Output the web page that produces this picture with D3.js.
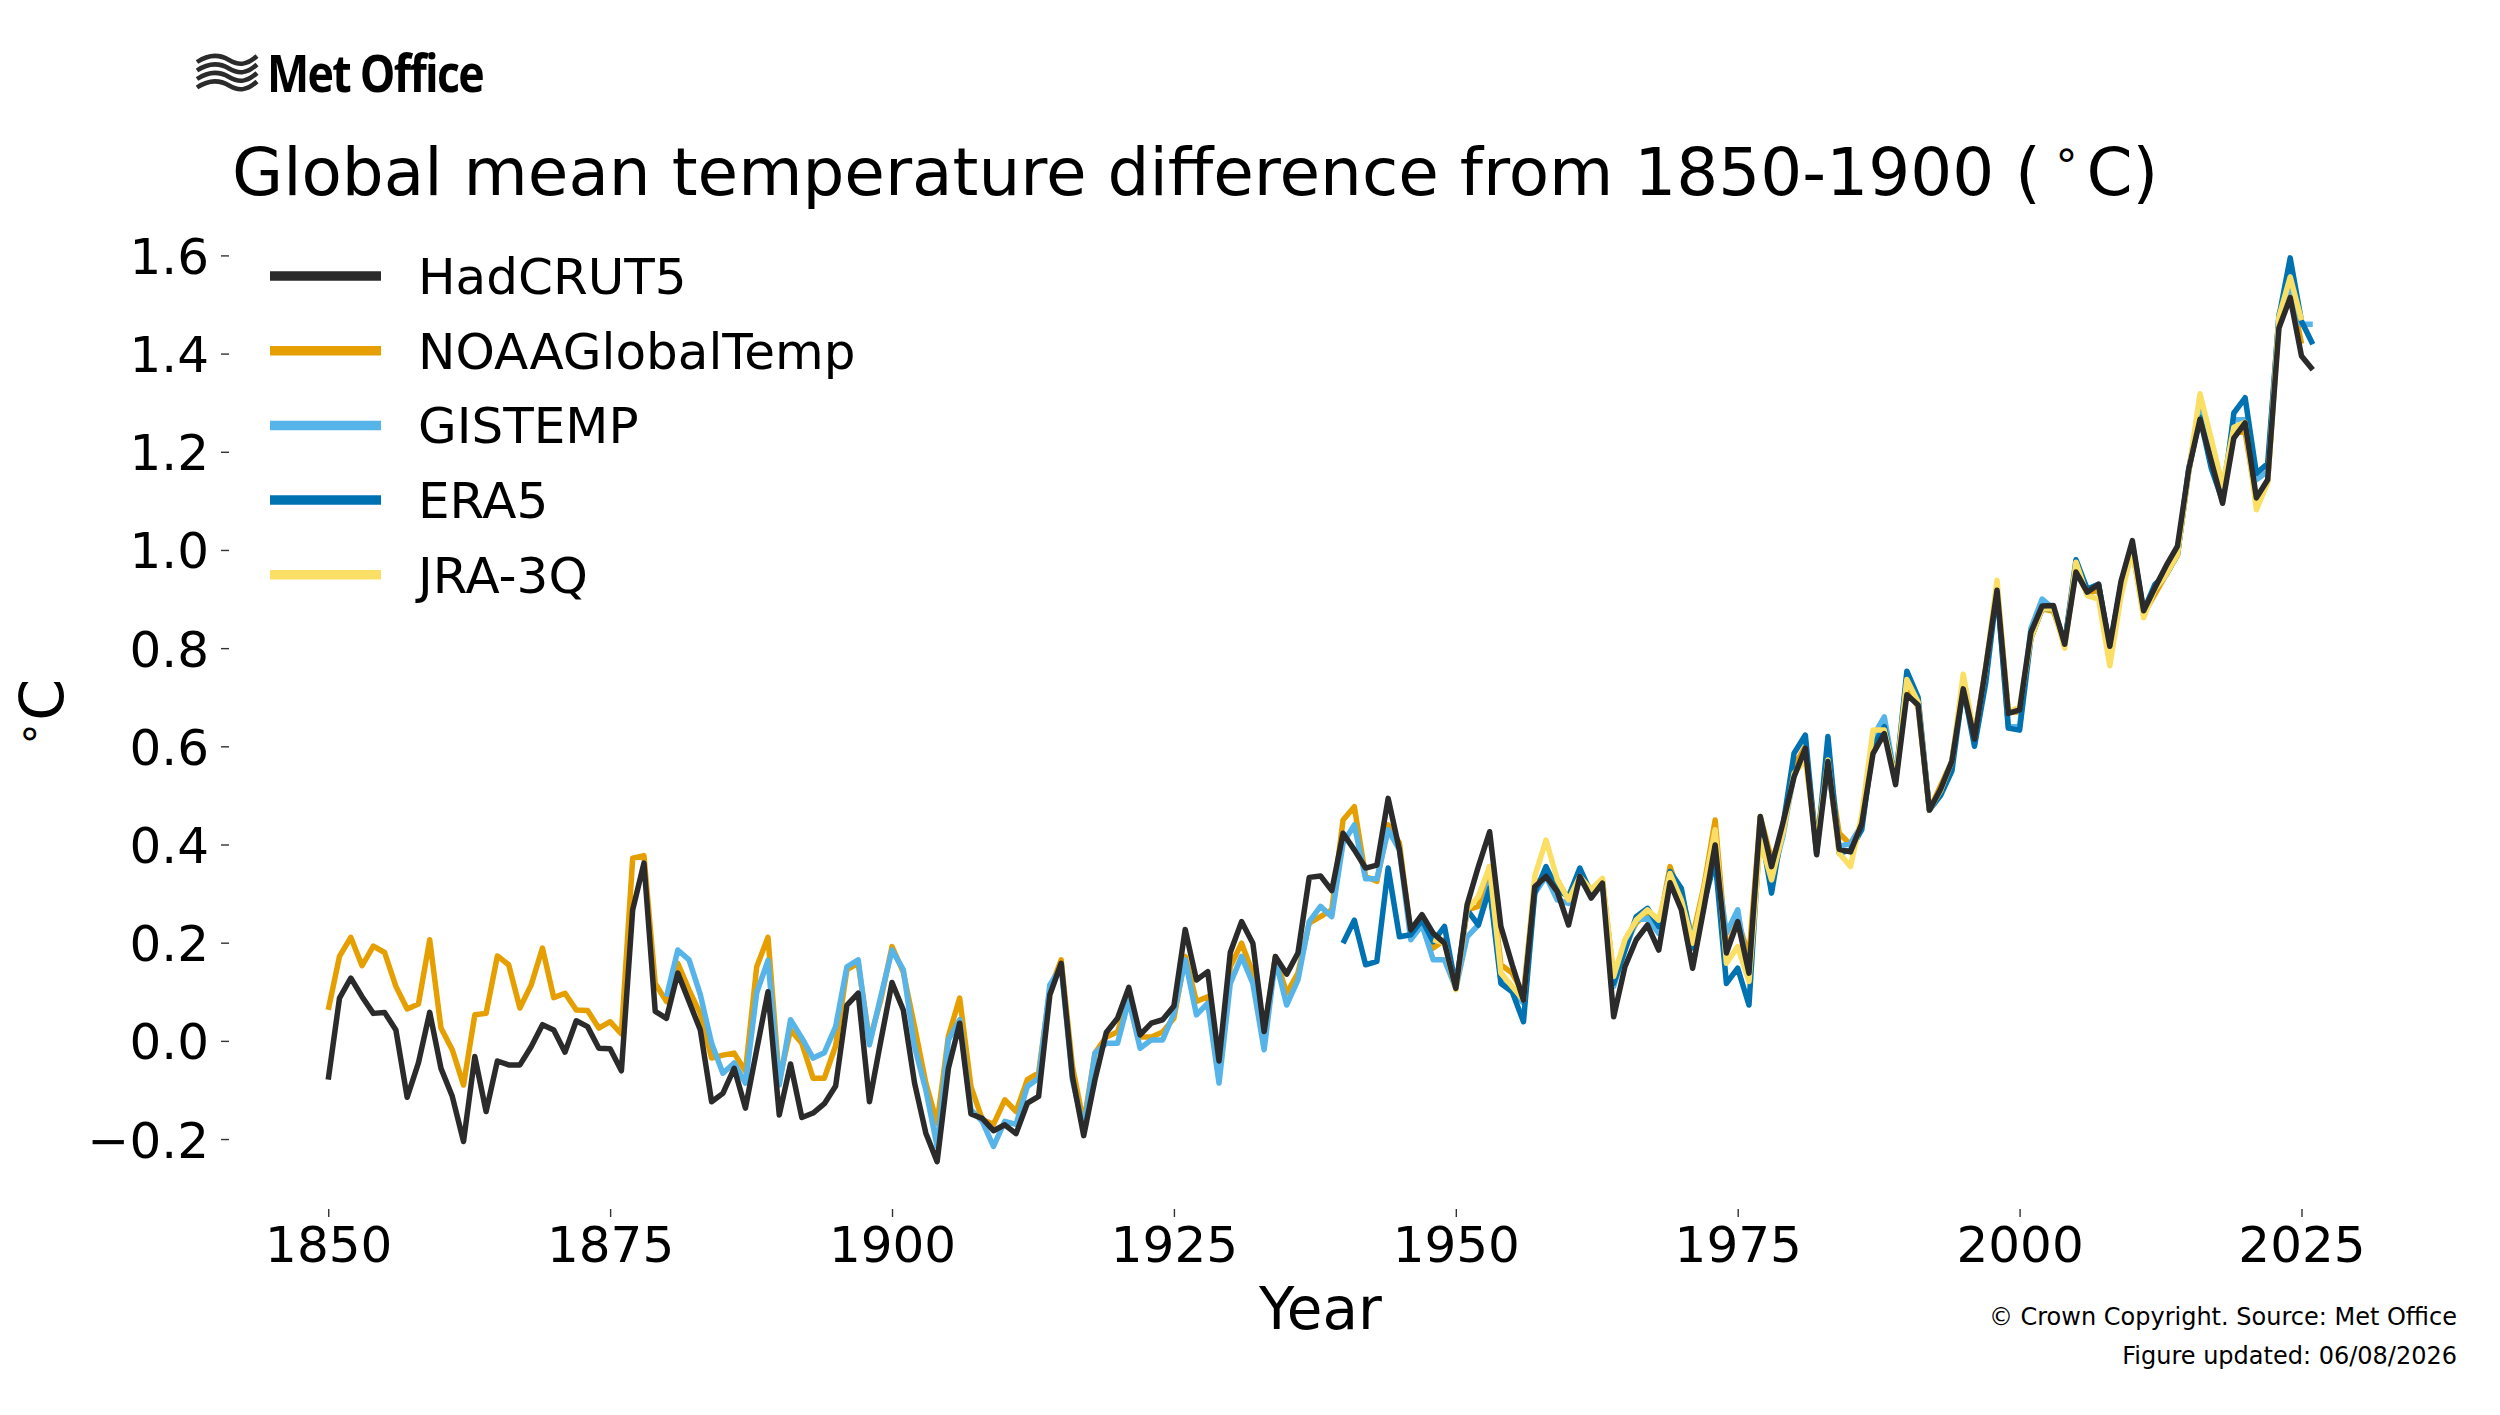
<!DOCTYPE html>
<html>
<head>
<meta charset="utf-8">
<script src="https://cdn.jsdelivr.net/npm/d3@7"></script>
<style>
  body { margin: 0; background: #fff; }
  svg { display: block; }
  text { font-family: "DejaVu Sans", sans-serif; fill: #000; }
</style>
</head>
<body>
<div id="chart"></div>
<script>
// annual values, degC above 1850-1900
const hadcrutStart = 1850;
const hadcrut5 = [
  -0.079, 0.087, 0.128, 0.090, 0.056, 0.058, 0.022, -0.115, -0.045, 0.058,
  -0.056, -0.113, -0.205, -0.032, -0.144, -0.041, -0.049, -0.049, -0.012, 0.033,
  0.022, -0.023, 0.041, 0.029, -0.015, -0.016, -0.061, 0.267, 0.362, 0.060,
  0.046, 0.138, 0.080, 0.022, -0.124, -0.107, -0.056, -0.137, -0.018, 0.100,
  -0.151, -0.047, -0.156, -0.147, -0.128, -0.092, 0.073, 0.097, -0.124, -0.001,
  0.119, 0.063, -0.086, -0.188, -0.246, -0.056, 0.036, -0.149, -0.158, -0.183,
  -0.171, -0.189, -0.127, -0.113, 0.094, 0.158, -0.073, -0.193, -0.079, 0.017,
  0.046, 0.109, 0.012, 0.036, 0.043, 0.071, 0.227, 0.124, 0.141, -0.041,
  0.180, 0.243, 0.199, 0.019, 0.172, 0.136, 0.179, 0.333, 0.336, 0.306,
  0.423, 0.389, 0.352, 0.358, 0.494, 0.389, 0.226, 0.257, 0.219, 0.199,
  0.107, 0.277, 0.355, 0.426, 0.233, 0.155, 0.083, 0.314, 0.335, 0.304,
  0.236, 0.335, 0.291, 0.321, 0.049, 0.151, 0.206, 0.236, 0.185, 0.322,
  0.267, 0.148, 0.270, 0.399, 0.179, 0.243, 0.138, 0.457, 0.355, 0.443,
  0.538, 0.596, 0.379, 0.569, 0.390, 0.385, 0.442, 0.585, 0.626, 0.522,
  0.705, 0.684, 0.470, 0.513, 0.570, 0.717, 0.615, 0.761, 0.918, 0.667,
  0.674, 0.832, 0.886, 0.887, 0.808, 0.955, 0.914, 0.930, 0.804, 0.937,
  1.019, 0.876, 0.923, 0.968, 1.008, 1.164, 1.266, 1.181, 1.095, 1.228,
  1.259, 1.106, 1.143, 1.452, 1.514, 1.395, 1.367
];

const noaaStart = 1850;
const noaa = [
  0.063, 0.172, 0.211, 0.153, 0.193, 0.180, 0.111, 0.065, 0.075, 0.206,
  0.026, -0.018, -0.090, 0.053, 0.056, 0.173, 0.155, 0.067, 0.114, 0.189,
  0.088, 0.097, 0.063, 0.062, 0.026, 0.039, 0.014, 0.372, 0.377, 0.117,
  0.080, 0.158, 0.104, 0.055, -0.035, -0.029, -0.025, -0.062, 0.151, 0.211,
  -0.080, 0.022, -0.005, -0.076, -0.076, -0.010, 0.145, 0.158, 0.000, 0.083,
  0.192, 0.140, 0.029, -0.086, -0.168, 0.010, 0.087, -0.093, -0.160, -0.170,
  -0.120, -0.144, -0.079, -0.065, 0.104, 0.165, -0.052, -0.168, -0.025, 0.008,
  0.018, 0.090, 0.008, 0.008, 0.018, 0.046, 0.172, 0.080, 0.090, -0.045,
  0.151, 0.199, 0.138, 0.015, 0.172, 0.097, 0.138, 0.240, 0.253, 0.267,
  0.450, 0.477, 0.335, 0.325, 0.440, 0.403, 0.219, 0.240, 0.189, 0.206,
  0.110, 0.267, 0.274, 0.355, 0.155, 0.138, 0.096, 0.321, 0.335, 0.328,
  0.287, 0.335, 0.308, 0.328, 0.131, 0.199, 0.240, 0.260, 0.233, 0.355,
  0.287, 0.212, 0.314, 0.450, 0.185, 0.246, 0.172, 0.457, 0.369, 0.423,
  0.559, 0.600, 0.402, 0.572, 0.423, 0.400, 0.440, 0.600, 0.640, 0.530,
  0.720, 0.680, 0.470, 0.520, 0.570, 0.720, 0.620, 0.760, 0.920, 0.670,
  0.670, 0.820, 0.880, 0.875, 0.810, 0.960, 0.910, 0.920, 0.790, 0.930,
  1.000, 0.870, 0.910, 0.950, 0.990, 1.160, 1.280, 1.190, 1.110, 1.240,
  1.240, 1.100, 1.140, 1.466, 1.536, 1.420
];

const gistempStart = 1880;
const gistemp = [
  0.090, 0.185, 0.165, 0.094, -0.005, -0.066, -0.045, -0.086, 0.098, 0.164,
  -0.090, 0.043, 0.006, -0.035, -0.024, 0.029, 0.151, 0.165, -0.008, 0.090,
  0.185, 0.145, -0.012, -0.100, -0.215, 0.002, 0.043, -0.140, -0.164, -0.215,
  -0.164, -0.170, -0.093, -0.076, 0.114, 0.151, -0.079, -0.180, -0.025, -0.005,
  -0.005, 0.083, -0.015, 0.002, 0.002, 0.056, 0.165, 0.053, 0.077, -0.086,
  0.117, 0.172, 0.117, -0.018, 0.165, 0.073, 0.124, 0.243, 0.274, 0.253,
  0.403, 0.440, 0.330, 0.330, 0.430, 0.389, 0.206, 0.236, 0.165, 0.165,
  0.107, 0.212, 0.236, 0.321, 0.124, 0.100, 0.077, 0.301, 0.335, 0.287,
  0.280, 0.328, 0.301, 0.318, 0.111, 0.185, 0.246, 0.250, 0.219, 0.335,
  0.301, 0.206, 0.294, 0.382, 0.219, 0.267, 0.124, 0.443, 0.328, 0.416,
  0.545, 0.579, 0.402, 0.559, 0.396, 0.402, 0.440, 0.620, 0.660, 0.530,
  0.740, 0.690, 0.470, 0.510, 0.570, 0.720, 0.620, 0.750, 0.920, 0.640,
  0.640, 0.840, 0.900, 0.880, 0.810, 0.970, 0.920, 0.930, 0.800, 0.930,
  1.010, 0.870, 0.920, 0.950, 0.990, 1.160, 1.300, 1.200, 1.120, 1.265,
  1.265, 1.143, 1.160, 1.480, 1.540, 1.460, 1.460
];

const era5Start = 1940;
const era5 = [
  0.199, 0.246, 0.155, 0.162, 0.352, 0.212, 0.216, 0.246, 0.202, 0.233,
  0.110, 0.267, 0.236, 0.311, 0.117, 0.100, 0.039, 0.301, 0.355, 0.308,
  0.294, 0.352, 0.301, 0.321, 0.117, 0.185, 0.253, 0.270, 0.233, 0.345,
  0.311, 0.189, 0.280, 0.369, 0.117, 0.148, 0.073, 0.436, 0.301, 0.436,
  0.586, 0.623, 0.382, 0.620, 0.382, 0.389, 0.430, 0.600, 0.640, 0.530,
  0.753, 0.700, 0.470, 0.500, 0.550, 0.720, 0.600, 0.730, 0.920, 0.637,
  0.633, 0.820, 0.880, 0.880, 0.810, 0.980, 0.920, 0.930, 0.800, 0.930,
  1.010, 0.876, 0.930, 0.950, 0.990, 1.166, 1.270, 1.166, 1.100, 1.279,
  1.310, 1.156, 1.176, 1.475, 1.595, 1.466, 1.419
];

const jra3qStart = 1948;
const jra3q = [
  0.206, 0.199,
  0.104, 0.267, 0.294, 0.355, 0.138, 0.111, 0.083, 0.335, 0.409, 0.328,
  0.287, 0.335, 0.308, 0.331, 0.131, 0.206, 0.246, 0.267, 0.246, 0.341,
  0.287, 0.199, 0.308, 0.430, 0.158, 0.192, 0.121, 0.409, 0.328, 0.423,
  0.545, 0.572, 0.396, 0.572, 0.382, 0.355, 0.460, 0.633, 0.633, 0.530,
  0.736, 0.690, 0.470, 0.510, 0.570, 0.747, 0.620, 0.760, 0.938, 0.670,
  0.680, 0.820, 0.880, 0.880, 0.800, 0.975, 0.907, 0.900, 0.764, 0.907,
  1.000, 0.862, 0.920, 0.950, 0.990, 1.160, 1.318, 1.226, 1.130, 1.250,
  1.260, 1.082, 1.137, 1.475, 1.556, 1.468
];

const xTicks = [1850, 1875, 1900, 1925, 1950, 1975, 2000, 2025];
const yTicks = [-0.2, 0.0, 0.2, 0.4, 0.6, 0.8, 1.0, 1.2, 1.4, 1.6];

// legend order (top to bottom)
const series = [
  { name: "HadCRUT5", start: hadcrutStart, values: hadcrut5, color: "#2b2b2b" },
  { name: "NOAAGlobalTemp", start: noaaStart, values: noaa, color: "#e69f00" },
  { name: "GISTEMP", start: gistempStart, values: gistemp, color: "#56b4e9" },
  { name: "ERA5", start: era5Start, values: era5, color: "#0072b2" },
  { name: "JRA-3Q", start: jra3qStart, values: jra3q, color: "#fbdf64" }
];
// HadCRUT5 sits on top, the others underneath
const drawOrder = ["NOAAGlobalTemp", "GISTEMP", "ERA5", "JRA-3Q", "HadCRUT5"];

const W = 2500, H = 1415;
const plot = { left: 229, right: 2412, top: 210, bottom: 1209 };

const svg = d3.select("#chart").append("svg")
    .attr("width", W)
    .attr("height", H)
    .style("background", "#fff");

// matplotlib-style 5% padding around the data
const x = d3.scaleLinear().domain([1841.2, 2034.8]).range([plot.left, plot.right]);
const y = d3.scaleLinear().domain([-0.3425, 1.6925]).range([plot.bottom, plot.top]);

// axes, spines hidden
const yAxis = svg.append("g")
    .attr("transform", `translate(${plot.left},0)`)
    .call(d3.axisLeft(y).tickValues(yTicks).tickFormat(d3.format(".1f")).tickSize(8).tickPadding(12));
const xAxis = svg.append("g")
    .attr("transform", `translate(0,${plot.bottom})`)
    .call(d3.axisBottom(x).tickValues(xTicks).tickFormat(d3.format("d")).tickSize(8).tickPadding(6));

[xAxis, yAxis].forEach(g => {
  g.select(".domain").remove();
  g.selectAll(".tick line").attr("stroke", "#333").attr("stroke-width", 1.4);
  g.selectAll(".tick text")
      .style("font-family", '"DejaVu Sans", sans-serif')
      .style("font-size", "50px")
      .attr("fill", "#000");
});
yAxis.selectAll(".tick text").attr("dy", "0.36em");
xAxis.selectAll(".tick text").attr("dy", "0.78em");

// lines
const line = d3.line()
    .x(d => x(d.year))
    .y(d => y(d.value));

const lines = svg.append("g");
drawOrder.forEach(name => {
  const s = series.find(d => d.name === name);
  const pts = s.values.map((v, i) => ({ year: s.start + i, value: v }));
  lines.append("path")
      .datum(pts)
      .attr("d", line)
      .attr("fill", "none")
      .attr("stroke", s.color)
      .attr("stroke-width", 5.5)
      .attr("stroke-linejoin", "round")
      .attr("stroke-linecap", "butt");
});

// legend
const legend = svg.append("g");
series.forEach((s, i) => {
  const ly = 276 + i * 74.7;
  legend.append("line")
      .attr("x1", 270).attr("x2", 381)
      .attr("y1", ly).attr("y2", ly)
      .attr("stroke", s.color)
      .attr("stroke-width", 9.5);
  legend.append("text")
      .attr("x", 418)
      .attr("y", ly + 18)
      .style("font-size", "50px")
      .text(s.name);
});

// title and axis labels
const title = svg.append("text")
    .attr("x", 232)
    .attr("y", 195)
    .style("font-size", "66px");
title.append("tspan").text("Global mean temperature difference from 1850-1900 (");
title.append("tspan").attr("dx", 12).attr("dy", -26).style("font-size", "44px").text("\u2218");
title.append("tspan").attr("dx", 6).attr("dy", 26).text("C)");

svg.append("text")
    .attr("x", (plot.left + plot.right) / 2)
    .attr("y", 1329)
    .attr("text-anchor", "middle")
    .style("font-size", "58px")
    .text("Year");

const ylab = svg.append("text")
    .attr("transform", "translate(63,713) rotate(-90)")
    .attr("text-anchor", "middle")
    .style("font-size", "60px");
ylab.append("tspan").attr("dy", -20).style("font-size", "42px").text("\u2218");
ylab.append("tspan").attr("dy", 20).text("C");

// footer
svg.append("text")
    .attr("x", 2457).attr("y", 1325)
    .attr("text-anchor", "end")
    .style("font-size", "24px")
    .text("\u00a9 Crown Copyright. Source: Met Office");
svg.append("text")
    .attr("x", 2457).attr("y", 1364)
    .attr("text-anchor", "end")
    .style("font-size", "24px")
    .text("Figure updated: 06/08/2026");

// Met Office logo: wave mark + wordmark
const logo = svg.append("g").attr("transform", "translate(197,53)");
[0, 1, 2, 3].forEach(k => {
  logo.append("path")
      .attr("d", `M0,${9 + k * 8.5} C12,${1 + k * 8.5} 22,${1 + k * 8.5} 32,${7 + k * 8.5} S50,${12 + k * 8.5} 60,${3 + k * 8.5}`)
      .attr("fill", "none")
      .attr("stroke", "#2b2b2b")
      .attr("stroke-width", 4.5);
});
svg.append("text")
    .attr("x", 267)
    .attr("y", 92)
    .attr("textLength", 216)
    .attr("lengthAdjust", "spacingAndGlyphs")
    .style("font-family", '"Open Sans", "Liberation Sans", sans-serif')
    .style("font-weight", "700")
    .style("font-size", "52px")
    .style("letter-spacing", "-2px")
    .attr("fill", "#2b2b2b")
    .text("Met Office");
</script>
</body>
</html>
